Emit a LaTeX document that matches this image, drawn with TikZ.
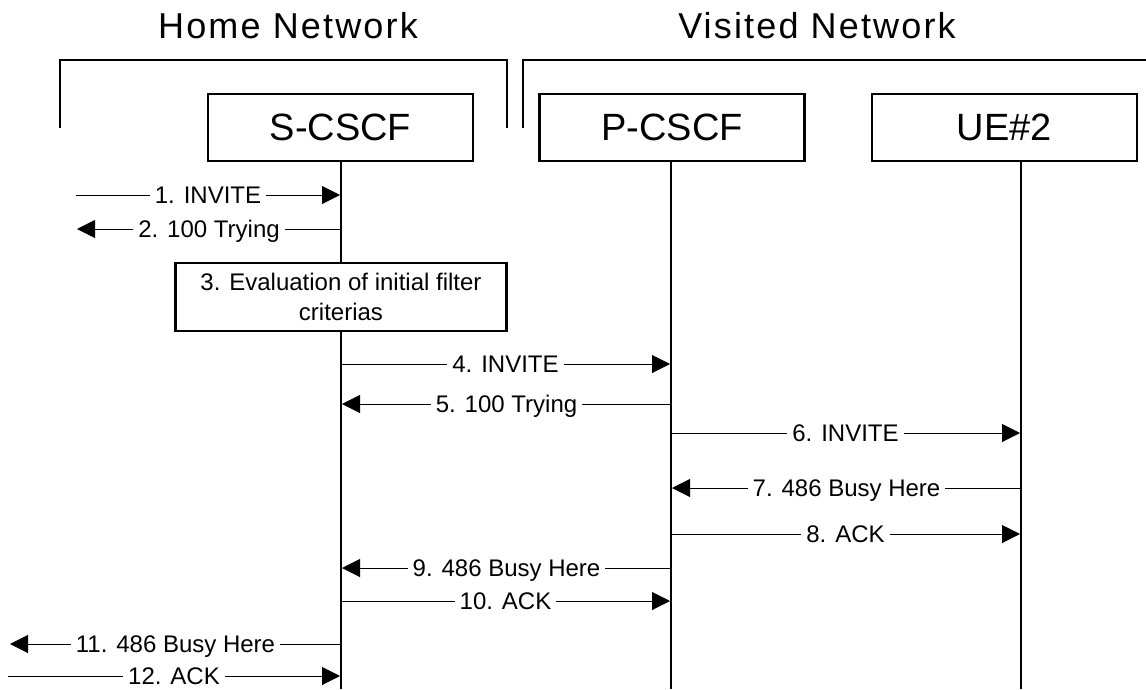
\documentclass[tikz,border=0pt]{standalone}
\usepackage{fontspec}
\setmainfont{Liberation Sans}
\newfontfamily\titlefont[LetterSpace=6]{Liberation Sans}
\usetikzlibrary{arrows.meta}
\begin{document}
\begin{tikzpicture}[x=1pt,y=-1pt,
  big/.style={font=\fontsize{38}{44}\selectfont},
  ttl/.style={font=\titlefont\fontsize{36}{42}\selectfont},
  entity/.style={draw,line width=2.5pt,minimum width=265pt,minimum height=67pt,inner sep=0pt,big},
  lifeline/.style={line width=2.5pt},
  bracket/.style={line width=2.5pt},
  msg/.style={line width=1pt},
  arr/.style={msg,-{Triangle[length=18pt,width=18pt]}},
  lbl/.style={fill=white,inner xsep=5pt,inner ysep=0pt,text height=17pt,text depth=0pt,font=\fontsize{24}{29}\selectfont},
  procbox/.style={draw,line width=2.5pt,minimum width=331pt,minimum height=68pt,align=center,inner sep=0pt,fill=white,font=\fontsize{24}{30}\selectfont}
]
\useasboundingbox (0,0) rectangle (1146,689);

% titles
\node[ttl,anchor=base] (home) at (288,38) {Home Network};
\node[ttl,anchor=base] (visited) at (817,38) {Visited Network};

% brackets
\coordinate (hb1) at (60,128);
\coordinate (hb2) at (60,60);
\coordinate (hb3) at (507,60);
\coordinate (hb4) at (507,128);
\draw[bracket] (hb1) -- (hb2) -- (hb3) -- (hb4);
\coordinate (vb1) at (523,128);
\coordinate (vb2) at (523,60);
\coordinate (vb3) at (1146,60);
\draw[bracket] (vb1) -- (vb2) -- (vb3);

% entities
\node[entity] (S) at (340.5,127.5) {S-CSCF};
\node[entity] (P) at (672,127.5) {P-CSCF};
\node[entity] (U) at (1004.5,127.5) {UE\#2};

% lifelines
\coordinate (Stop) at (341,161);
\coordinate (Sbot) at (341,689);
\coordinate (Ptop) at (671,161);
\coordinate (Pbot) at (671,689);
\coordinate (Utop) at (1021,161);
\coordinate (Ubot) at (1021,689);
\draw[lifeline] (Stop) -- (Sbot);
\draw[lifeline] (Ptop) -- (Pbot);
\draw[lifeline] (Utop) -- (Ubot);

% message end points
\coordinate (m1a) at (76,195);   \coordinate (m1b) at (340,195);
\coordinate (m2a) at (341,229);  \coordinate (m2b) at (77,229);
\coordinate (m4a) at (341,364);  \coordinate (m4b) at (670,364);
\coordinate (m5a) at (671,404);  \coordinate (m5b) at (342,404);
\coordinate (m6a) at (671,433);  \coordinate (m6b) at (1020,433);
\coordinate (m7a) at (1021,488); \coordinate (m7b) at (672,488);
\coordinate (m8a) at (671,534);  \coordinate (m8b) at (1020,534);
\coordinate (m9a) at (671,568);  \coordinate (m9b) at (342,568);
\coordinate (m10a) at (341,601); \coordinate (m10b) at (670,601);
\coordinate (m11a) at (341,644); \coordinate (m11b) at (10,644);
\coordinate (m12a) at (8,676);   \coordinate (m12b) at (340,676);

\draw[arr] (m1a) -- node[lbl] (l1) {1. INVITE} (m1b);
\draw[arr] (m2a) -- node[lbl] (l2) {2. 100 Trying} (m2b);

% evaluation box
\node[procbox] (eval) at (341,297) {3. Evaluation of initial filter\\criterias};

\draw[arr] (m4a) -- node[lbl] (l4) {4. INVITE} (m4b);
\draw[arr] (m5a) -- node[lbl] (l5) {5. 100 Trying} (m5b);
\draw[arr] (m6a) -- node[lbl] (l6) {6. INVITE} (m6b);
\draw[arr] (m7a) -- node[lbl] (l7) {7. 486 Busy Here} (m7b);
\draw[arr] (m8a) -- node[lbl] (l8) {8. ACK} (m8b);
\draw[arr] (m9a) -- node[lbl] (l9) {9. 486 Busy Here} (m9b);
\draw[arr] (m10a) -- node[lbl] (l10) {10. ACK} (m10b);
\draw[arr] (m11a) -- node[lbl] (l11) {11. 486 Busy Here} (m11b);
\draw[arr] (m12a) -- node[lbl] (l12) {12. ACK} (m12b);
\end{tikzpicture}
\end{document}
